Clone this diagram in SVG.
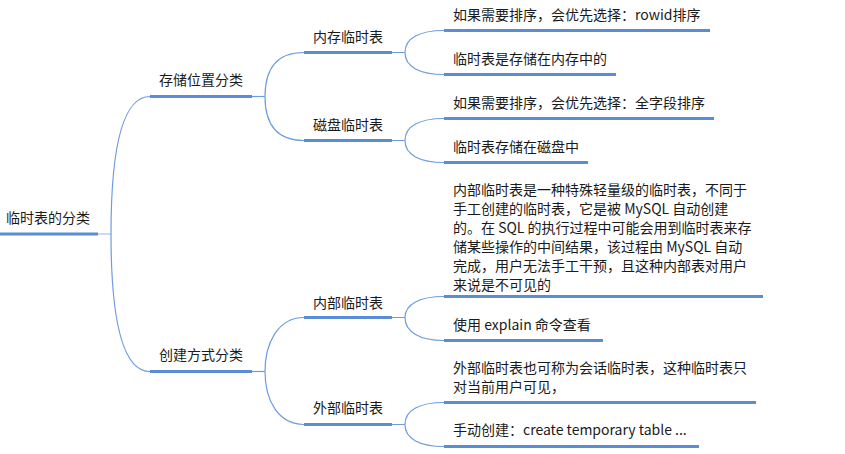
<svg xmlns="http://www.w3.org/2000/svg" width="845" height="454" viewBox="0 0 845 454">
<style>
text{font-family:"Noto Sans CJK SC","Noto Sans",sans-serif;font-size:14px;fill:#1a1a1a}
.ul{stroke:#5b8dd6;stroke-width:3;fill:none}
.c{stroke:#6d9be0;stroke-width:1.2;fill:none}
.st{stroke:#6d9be0;stroke-width:1.2;fill:none}
</style>
<rect width="845" height="454" fill="#fff"/>
<g id="connectors">
<path class="st" d="M98,234H111" stroke="#a6c4ea" style="stroke:#a6c4ea"/>
<path class="c" d="M111,234C111,140 125,96.5 150,96.5"/>
<path class="c" d="M111,234C111,328 125,371.5 150,371.5"/>
<path class="st" d="M252,96.5H265"/>
<path class="st" d="M252,371.5H265"/>
<path class="c" d="M265,96.5C265,68 278,52.5 304,52.5"/>
<path class="c" d="M265,96.5C265,125 278,140.5 304,140.5"/>
<path class="c" d="M265,371.5C265,343 278,317.5 304,317.5"/>
<path class="c" d="M265,371.5C265,400 278,424.5 304,424.5"/>
<path class="st" d="M392,52.5H405M392,140.5H405M392,317.5H405M392,424.5H405"/>
<path class="c" d="M405,52.5C405,38 420,30.5 444,30.5"/>
<path class="c" d="M405,52.5C405,67 420,74.5 444,74.5"/>
<path class="c" d="M405,140.5C405,126 420,118.5 444,118.5"/>
<path class="c" d="M405,140.5C405,155 420,162.5 444,162.5"/>
<path class="c" d="M405,317.5C405,304 420,296.5 444,296.5"/>
<path class="c" d="M405,317.5C405,332 420,340.5 444,340.5"/>
<path class="c" d="M405,424.5C405,410 420,402.5 444,402.5"/>
<path class="c" d="M405,424.5C405,439 420,446.5 444,446.5"/>
</g>
<g id="root">
<path class="ul" d="M0,234H98"/>
<text x="6" y="223">临时表的分类</text>
</g>
<g id="storage">
<path class="ul" d="M150,96.5H252"/>
<text x="159" y="85">存储位置分类</text>
</g>
<g id="creation">
<path class="ul" d="M150,371.5H252"/>
<text x="159" y="360">创建方式分类</text>
</g>
<g id="memory">
<path class="ul" d="M304,52.5H392"/>
<text x="313" y="41.5">内存临时表</text>
</g>
<g id="disk">
<path class="ul" d="M304,140.5H392"/>
<text x="313" y="130">磁盘临时表</text>
</g>
<g id="internal">
<path class="ul" d="M304,317.5H392"/>
<text x="313" y="307.5">内部临时表</text>
</g>
<g id="external">
<path class="ul" d="M304,424.5H392"/>
<text x="313" y="413">外部临时表</text>
</g>
<g id="mem1">
<path class="ul" d="M444,30.5H710"/>
<text x="453" y="20">如果需要排序，会优先选择：rowid排序</text>
</g>
<g id="mem2">
<path class="ul" d="M444,74.5H616"/>
<text x="453" y="64">临时表是存储在内存中的</text>
</g>
<g id="disk1">
<path class="ul" d="M444,118.5H714"/>
<text x="453" y="108">如果需要排序，会优先选择：全字段排序</text>
</g>
<g id="disk2">
<path class="ul" d="M444,162.5H588"/>
<text x="453" y="152">临时表存储在磁盘中</text>
</g>
<g id="int1">
<path class="ul" d="M444,296.5H763"/>
<text x="453" y="195">内部临时表是一种特殊轻量级的临时表，不同于</text>
<text x="453" y="214">手工创建的临时表，它是被 MySQL 自动创建</text>
<text x="453" y="233">的。在 SQL 的执行过程中可能会用到临时表来存</text>
<text x="453" y="252">储某些操作的中间结果，该过程由 MySQL 自动</text>
<text x="453" y="271">完成，用户无法手工干预，且这种内部表对用户</text>
<text x="453" y="290">来说是不可见的</text>
</g>
<g id="int2">
<path class="ul" d="M444,340.5H603"/>
<text x="453" y="330">使用 explain 命令查看</text>
</g>
<g id="ext1">
<path class="ul" d="M444,402.5H756"/>
<text x="453" y="373">外部临时表也可称为会话临时表，这种临时表只</text>
<text x="453" y="392">对当前用户可见，</text>
</g>
<g id="ext2">
<path class="ul" d="M444,446.5H699"/>
<text x="453" y="435">手动创建：create temporary table ...</text>
</g>
</svg>
